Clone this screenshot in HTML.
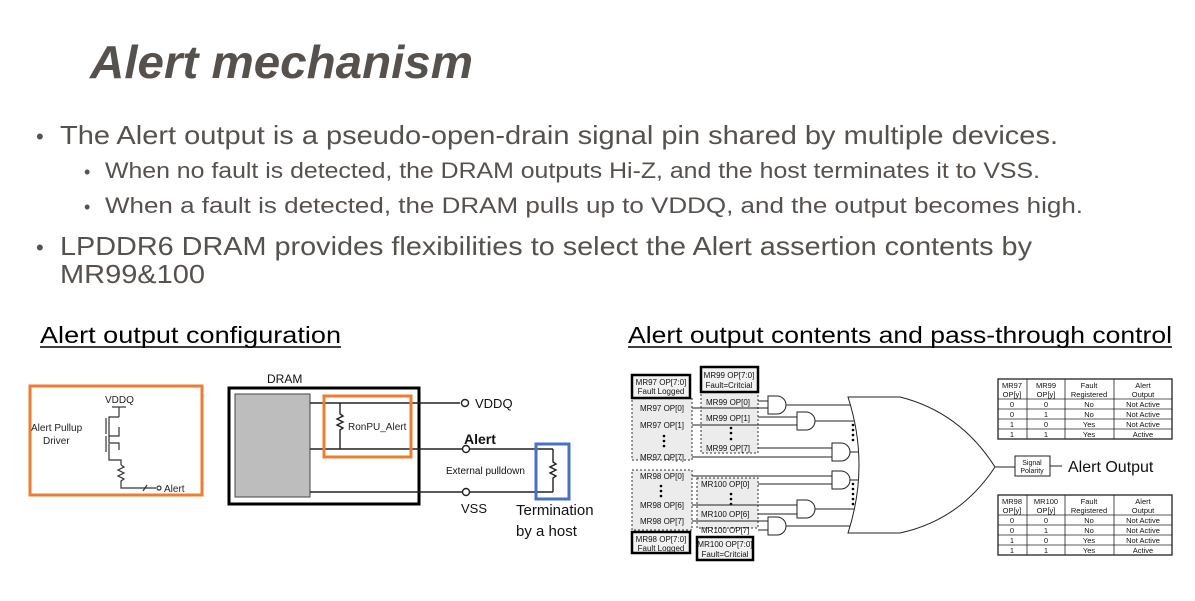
<!DOCTYPE html>
<html><head><meta charset="utf-8"><style>
html,body{margin:0;padding:0;background:#fff;}
svg{display:block;}
text{font-family:"Liberation Sans",sans-serif;}
</style></head><body>
<svg width="1195" height="601" viewBox="0 0 1195 601" xmlns="http://www.w3.org/2000/svg">
<rect width="1195" height="601" fill="#fff"/>
<g fill="#57514e">
<text x="90" y="78" font-size="46" font-weight="bold" font-style="italic" textLength="383" lengthAdjust="spacingAndGlyphs">Alert mechanism</text>
<text x="36" y="144" font-size="22">•</text>
<text x="60" y="144" font-size="26" textLength="998" lengthAdjust="spacingAndGlyphs">The Alert output is a pseudo-open-drain signal pin shared by multiple devices.</text>
<text x="84" y="178" font-size="18">•</text>
<text x="105" y="178" font-size="22" textLength="935" lengthAdjust="spacingAndGlyphs">When no fault is detected, the DRAM outputs Hi-Z, and the host terminates it to VSS.</text>
<text x="84" y="213" font-size="18">•</text>
<text x="105" y="213" font-size="22" textLength="978" lengthAdjust="spacingAndGlyphs">When a fault is detected, the DRAM pulls up to VDDQ, and the output becomes high.</text>
<text x="36" y="255" font-size="22">•</text>
<text x="60" y="255" font-size="26" textLength="972" lengthAdjust="spacingAndGlyphs">LPDDR6 DRAM provides flexibilities to select the Alert assertion contents by</text>
<text x="60" y="283" font-size="26" textLength="145" lengthAdjust="spacingAndGlyphs">MR99&amp;100</text>
</g>
<g fill="#000">
<text x="40" y="343" font-size="23" textLength="301" lengthAdjust="spacingAndGlyphs">Alert output configuration</text>
<line x1="40" y1="347" x2="341" y2="347" stroke="#000" stroke-width="1.5"/>
<text x="628" y="343" font-size="23" textLength="544" lengthAdjust="spacingAndGlyphs">Alert output contents and pass-through control</text>
<line x1="628" y1="347" x2="1172" y2="347" stroke="#000" stroke-width="1.5"/>
</g>

<!-- Left diagram -->
<g stroke="#333" fill="none" stroke-width="1.2">
<!-- pullup circuit -->
<line x1="112" y1="407" x2="126" y2="407"/>
<line x1="119" y1="407" x2="119" y2="417"/>
<polyline points="119,417 109,417 109,427"/>
<line x1="106" y1="418" x2="106" y2="434"/>
<polyline points="109,427 109,443 119,443 119,450"/>
<polyline points="119,427 119,436 109,436"/>
<line x1="106" y1="436" x2="106" y2="452"/>
<polyline points="109,444 109,460 121,460 121,465"/>
<polyline points="121,465 124,467 118,470 124,473 118,476 124,479 121,481 121,488 156,488"/>
<line x1="143" y1="491" x2="147" y2="485"/>
<circle cx="159" cy="488" r="2"/>
</g>
<g font-size="10" fill="#222">
<text x="105" y="403">VDDQ</text>
<text x="31" y="431">Alert Pullup</text>
<text x="43" y="444">Driver</text>
<text x="164" y="492">Alert</text>
</g>
<rect x="30" y="386" width="172" height="109" fill="none" stroke="#ee7d31" stroke-width="3"/>

<rect x="229" y="388" width="190" height="116" fill="none" stroke="#000" stroke-width="3"/>
<rect x="235" y="394" width="75" height="103" fill="#bdbdbd" stroke="#444" stroke-width="1"/>
<text x="267" y="383" font-size="12" fill="#111">DRAM</text>
<g stroke="#222" stroke-width="1.4" fill="none">
<line x1="310" y1="403" x2="460" y2="403"/>
<line x1="310" y1="449" x2="462" y2="449"/>
<line x1="310" y1="492" x2="462" y2="492"/>
<line x1="469" y1="449" x2="553" y2="449"/>
<line x1="469" y1="492" x2="553" y2="492"/>
<polyline points="553,449 553,462 556,464 550,467 556,470 550,473 556,476 553,478 553,492"/>
<polyline points="340,403 340,414 343,416 337,419 343,422 337,425 343,428 340,430 340,449"/>
<circle cx="465" cy="403" r="3.5" fill="#fff"/>
<circle cx="466" cy="449" r="3.5" fill="#fff"/>
<circle cx="466" cy="492" r="3.5" fill="#fff"/>
</g>
<text x="348" y="430" font-size="10" fill="#222">RonPU_Alert</text>
<rect x="324" y="396" width="87" height="61" fill="none" stroke="#ee7d31" stroke-width="3"/>
<text x="475" y="408" font-size="13" fill="#111">VDDQ</text>
<text x="464" y="444" font-size="14" font-weight="bold" fill="#111">Alert</text>
<text x="446" y="474" font-size="10" fill="#111">External pulldown</text>
<text x="461" y="513" font-size="13" fill="#111">VSS</text>
<rect x="536" y="444" width="33" height="55" fill="none" stroke="#4472c4" stroke-width="3"/>
<text x="516" y="515" font-size="15" fill="#111">Termination</text>
<text x="516" y="536" font-size="15" fill="#111">by a host</text>

<!-- Right diagram -->
<g fill="#ececec" stroke="#333" stroke-width="1" stroke-dasharray="2,2">
<rect x="632" y="398" width="60" height="62"/>
<rect x="701" y="392" width="57" height="61"/>
<rect x="632" y="470" width="60" height="60"/>
<rect x="697" y="478" width="61" height="50"/>
</g>
<g fill="#f2f2f2" stroke="#000" stroke-width="2.5">
<rect x="632" y="375" width="58" height="23"/>
<rect x="701" y="367" width="57" height="25"/>
<rect x="632" y="532" width="58" height="21"/>
<rect x="697" y="537" width="56" height="23"/>
</g>
<g font-size="8" fill="#111">
<text x="661" y="385" text-anchor="middle">MR97 OP[7:0]</text>
<text x="661" y="394" text-anchor="middle">Fault Logged</text>
<text x="729" y="378" text-anchor="middle">MR99 OP[7:0]</text>
<text x="729" y="388" text-anchor="middle">Fault=Critcial</text>
<text x="661" y="542" text-anchor="middle">MR98 OP[7:0]</text>
<text x="661" y="551" text-anchor="middle">Fault Logged</text>
<text x="725" y="547" text-anchor="middle">MR100 OP[7:0]</text>
<text x="725" y="557" text-anchor="middle">Fault=Critcial</text>
<text x="640" y="411">MR97 OP[0]</text>
<text x="640" y="428">MR97 OP[1]</text>
<text x="640" y="460">MR97 OP[7]</text>
<text x="706" y="405">MR99 OP[0]</text>
<text x="706" y="421">MR99 OP[1]</text>
<text x="706" y="451">MR99 OP[7]</text>
<text x="640" y="479">MR98 OP[0]</text>
<text x="640" y="508">MR98 OP[6]</text>
<text x="640" y="524">MR98 OP[7]</text>
<text x="701" y="487">MR100 OP[0]</text>
<text x="701" y="517">MR100 OP[6]</text>
<text x="701" y="533">MR100 OP[7]</text>
</g>
<g fill="#000">
<circle cx="664" cy="436" r="1.3"/><circle cx="664" cy="441" r="1.3"/><circle cx="664" cy="446" r="1.3"/>
<circle cx="731" cy="428" r="1.3"/><circle cx="731" cy="433" r="1.3"/><circle cx="731" cy="439" r="1.3"/>
<circle cx="661" cy="486" r="1.3"/><circle cx="661" cy="491" r="1.3"/><circle cx="661" cy="496" r="1.3"/>
<circle cx="731" cy="494" r="1.3"/><circle cx="731" cy="499" r="1.3"/><circle cx="731" cy="504" r="1.3"/>
<circle cx="853" cy="425" r="1.3"/><circle cx="853" cy="430" r="1.3"/><circle cx="853" cy="435" r="1.3"/><circle cx="853" cy="440" r="1.3"/>
<circle cx="853" cy="484" r="1.3"/><circle cx="853" cy="489" r="1.3"/><circle cx="853" cy="494" r="1.3"/><circle cx="853" cy="499" r="1.3"/><circle cx="853" cy="504" r="1.3"/>
</g>
<g stroke="#222" stroke-width="1" fill="none">
<!-- inputs -->
<line x1="692" y1="408" x2="768" y2="408"/>
<line x1="758" y1="401" x2="768" y2="401"/>
<line x1="692" y1="425" x2="797" y2="425"/>
<line x1="758" y1="417" x2="797" y2="417"/>
<line x1="758" y1="448" x2="832" y2="448"/>
<line x1="692" y1="457" x2="832" y2="457"/>
<line x1="692" y1="476" x2="832" y2="476"/>
<line x1="758" y1="484" x2="832" y2="484"/>
<line x1="692" y1="505" x2="797" y2="505"/>
<line x1="758" y1="514" x2="797" y2="514"/>
<line x1="692" y1="521" x2="768" y2="521"/>
<line x1="758" y1="530" x2="768" y2="530"/>
<!-- AND gates -->
<path d="M768,396 H777 A9,9 0 0 1 777,414 H768 Z" fill="#fff"/>
<path d="M797,412 H806 A9,9 0 0 1 806,430 H797 Z" fill="#fff"/>
<path d="M832,443 H841 A9,9 0 0 1 841,461 H832 Z" fill="#fff"/>
<path d="M832,471 H841 A9,9 0 0 1 841,489 H832 Z" fill="#fff"/>
<path d="M797,500 H806 A9,9 0 0 1 806,518 H797 Z" fill="#fff"/>
<path d="M768,517 H777 A9,9 0 0 1 777,535 H768 Z" fill="#fff"/>
<!-- outputs to OR -->
<line x1="786" y1="405" x2="852" y2="405"/>
<line x1="815" y1="421" x2="856" y2="421"/>
<line x1="850" y1="452" x2="860" y2="452"/>
<line x1="850" y1="480" x2="860" y2="480"/>
<line x1="815" y1="509" x2="856" y2="509"/>
<line x1="786" y1="526" x2="851" y2="526"/>
<!-- OR gate -->
<path d="M848,397 Q870,465 848,533 L900,533 Q960,520 995,467 Q960,412 900,397 Z" fill="#fff"/>
<line x1="995" y1="467" x2="1015" y2="467"/>
<line x1="1050" y1="466" x2="1062" y2="466"/>
</g>
<rect x="1015" y="456" width="35" height="20" fill="#fff" stroke="#222" stroke-width="1"/>
<text x="1032" y="465" font-size="7" text-anchor="middle" fill="#111">Signal</text>
<text x="1032" y="473" font-size="7" text-anchor="middle" fill="#111">Polarity</text>
<text x="1068" y="472" font-size="16" fill="#111">Alert Output</text>

<!-- tables -->
<g font-size="7.5" fill="#111" text-anchor="middle">
<g>
<rect x="998" y="379" width="174" height="60" fill="none" stroke="#222" stroke-width="1.3"/>
<g stroke="#222" stroke-width="0.8">
<line x1="1027" y1="379" x2="1027" y2="439"/><line x1="1065" y1="379" x2="1065" y2="439"/><line x1="1114" y1="379" x2="1114" y2="439"/>
<line x1="998" y1="399" x2="1172" y2="399"/><line x1="998" y1="409" x2="1172" y2="409"/><line x1="998" y1="419" x2="1172" y2="419"/><line x1="998" y1="429" x2="1172" y2="429"/>
</g>
<text x="1012" y="388">MR97</text><text x="1046" y="388">MR99</text><text x="1089" y="388">Fault</text><text x="1143" y="388">Alert</text>
<text x="1012" y="397">OP[y]</text><text x="1046" y="397">OP[y]</text><text x="1089" y="397">Registered</text><text x="1143" y="397">Output</text>
<text x="1012" y="407">0</text><text x="1046" y="407">0</text><text x="1089" y="407">No</text><text x="1143" y="407">Not Active</text>
<text x="1012" y="417">0</text><text x="1046" y="417">1</text><text x="1089" y="417">No</text><text x="1143" y="417">Not Active</text>
<text x="1012" y="427">1</text><text x="1046" y="427">0</text><text x="1089" y="427">Yes</text><text x="1143" y="427">Not Active</text>
<text x="1012" y="437">1</text><text x="1046" y="437">1</text><text x="1089" y="437">Yes</text><text x="1143" y="437">Active</text>
</g>
<g transform="translate(0,116)">
<rect x="998" y="379" width="174" height="60" fill="none" stroke="#222" stroke-width="1.3"/>
<g stroke="#222" stroke-width="0.8">
<line x1="1027" y1="379" x2="1027" y2="439"/><line x1="1065" y1="379" x2="1065" y2="439"/><line x1="1114" y1="379" x2="1114" y2="439"/>
<line x1="998" y1="399" x2="1172" y2="399"/><line x1="998" y1="409" x2="1172" y2="409"/><line x1="998" y1="419" x2="1172" y2="419"/><line x1="998" y1="429" x2="1172" y2="429"/>
</g>
<text x="1012" y="388">MR98</text><text x="1046" y="388">MR100</text><text x="1089" y="388">Fault</text><text x="1143" y="388">Alert</text>
<text x="1012" y="397">OP[y]</text><text x="1046" y="397">OP[y]</text><text x="1089" y="397">Registered</text><text x="1143" y="397">Output</text>
<text x="1012" y="407">0</text><text x="1046" y="407">0</text><text x="1089" y="407">No</text><text x="1143" y="407">Not Active</text>
<text x="1012" y="417">0</text><text x="1046" y="417">1</text><text x="1089" y="417">No</text><text x="1143" y="417">Not Active</text>
<text x="1012" y="427">1</text><text x="1046" y="427">0</text><text x="1089" y="427">Yes</text><text x="1143" y="427">Not Active</text>
<text x="1012" y="437">1</text><text x="1046" y="437">1</text><text x="1089" y="437">Yes</text><text x="1143" y="437">Active</text>
</g>
</g>
</svg>
</body></html>
